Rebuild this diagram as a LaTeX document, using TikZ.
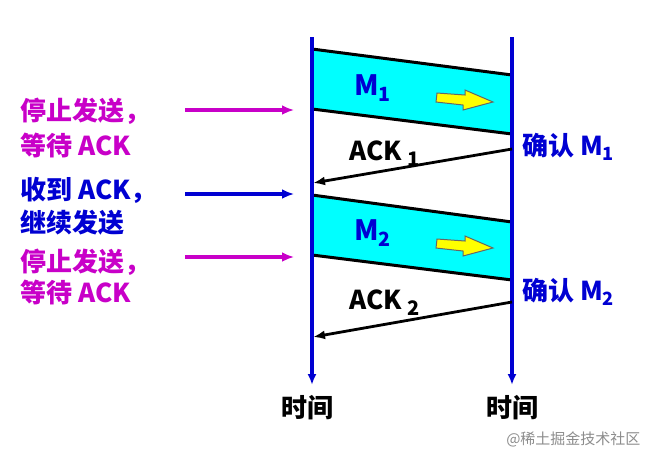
\documentclass[tikz,border=0pt]{standalone}
\usepackage{fontspec}
\setmainfont{Noto Sans CJK SC}
\usetikzlibrary{arrows.meta}
\definecolor{mag}{RGB}{200,0,200}
\definecolor{dblue}{RGB}{0,0,210}
\definecolor{cy}{RGB}{0,255,255}
\definecolor{yel}{RGB}{255,255,0}
\tikzset{
 axis/.style={draw=dblue,line width=3.4pt,-{Latex[length=11pt,width=9pt]}},
 frame/.style={fill=cy,draw=black,line width=3pt},
 ack/.style={draw=black,line width=2.8pt,-{Latex[length=12pt,width=9pt]}},
 ptr/.style={line width=3.4pt,-{Latex[length=12pt,width=10pt]}},
 lbl/.style={font=\bfseries\fontsize{26}{28}\selectfont,anchor=west,inner sep=0pt},
 yarrow/.style={fill=yel,draw=black!60,line width=1pt}
}
\begin{document}
\begin{tikzpicture}[x=1pt,y=-1pt]
\useasboundingbox (0,0) rectangle (651,459);
\coordinate (l0) at (312,37); \coordinate (l1) at (312,385);
\coordinate (r0) at (512,37); \coordinate (r1) at (512,385);
\draw[frame] (312,49) -- (512,75) -- (512,134) -- (312,109) -- cycle;
\draw[frame] (312,195) -- (512,222) -- (512,280) -- (312,255) -- cycle;
\draw[axis] (l0) -- (l1);
\draw[axis] (r0) -- (r1);
\node[lbl,text=dblue,font=\bfseries\itshape\fontsize{28}{30}\selectfont] (m1) at (354,88) {M\textsubscript{1}};
\node[lbl,text=dblue,font=\bfseries\itshape\fontsize{28}{30}\selectfont] (m2) at (354,233) {M\textsubscript{2}};
\draw[yarrow] (437,93) -- (465,95) -- (465,90) -- (493,102) -- (463,110) -- (463,105) -- (436,102) -- cycle;
\draw[yarrow] (437,239) -- (465,241) -- (465,236) -- (493,248) -- (463,256) -- (463,251) -- (436,248) -- cycle;
\coordinate (a1s) at (512,149); \coordinate (a1e) at (313,183);
\coordinate (a2s) at (512,302); \coordinate (a2e) at (313,337);
\draw[ack] (a1s) -- (a1e);
\draw[ack] (a2s) -- (a2e);
\node[lbl] (ack1) at (349,154) {ACK \raisebox{-6pt}{\fontsize{20}{20}\selectfont 1}};
\node[lbl] (ack2) at (349,303) {ACK \raisebox{-6pt}{\fontsize{20}{20}\selectfont 2}};
\node[lbl,text=dblue] (c1) at (522,147) {确认 M\textsubscript{1}};
\node[lbl,text=dblue] (c2) at (522,292) {确认 M\textsubscript{2}};
\node[lbl,text=mag] (t1) at (20,111) {停止发送，};
\node[lbl,text=mag] (t2) at (20,145) {等待 ACK};
\node[lbl,text=dblue] (t3) at (20,190) {收到 ACK，};
\node[lbl,text=dblue] (t4) at (20,223) {继续发送};
\node[lbl,text=mag] (t5) at (20,262) {停止发送，};
\node[lbl,text=mag] (t6) at (20,292) {等待 ACK};
\coordinate (p1) at (185,110); \coordinate (q1) at (294,110);
\coordinate (p2) at (185,194); \coordinate (q2) at (294,194);
\coordinate (p3) at (185,257); \coordinate (q3) at (294,257);
\draw[ptr,mag] (p1) -- (q1);
\draw[ptr,dblue] (p2) -- (q2);
\draw[ptr,mag] (p3) -- (q3);
\node[lbl,anchor=center] (h1) at (307,408) {时间};
\node[lbl,anchor=center] (h2) at (512,408) {时间};
\node[font=\fontsize{15}{16}\selectfont,text=black!45,anchor=east] (wm) at (644,439) {@稀土掘金技术社区};
\end{tikzpicture}
\end{document}
